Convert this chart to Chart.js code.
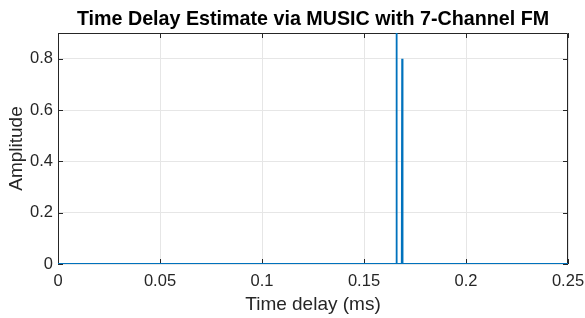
<!DOCTYPE html>
<html>
<head>
<meta charset="utf-8">
<script src="https://cdn.jsdelivr.net/npm/chart.js@4"></script>
<style>
  html, body { margin: 0; padding: 0; background: #fff; }
  #wrap { width: 585px; height: 318px; }
</style>
</head>
<body>
<div id="wrap"><canvas id="myChart" width="585" height="318"></canvas></div>
<script>
// time delay (ms) and MUSIC amplitude
const delays     = [0, 0.1657, 0.1659, 0.1661, 0.1685, 0.1687, 0.1689, 0.25];
const amplitudes = [0, 0,      1.0,    0,      0,      0.8,    0,      0];

const xTicks = [0, 0.05, 0.1, 0.15, 0.2, 0.25];
const yTicks = [0, 0.2, 0.4, 0.6, 0.8];

const chartTitle = 'Time Delay Estimate via MUSIC with 7-Channel FM';

const points = delays.map((d, i) => ({ x: d, y: amplitudes[i] }));

const fontFam = 'Liberation Sans, Arial, sans-serif';

// box around the axes, inward tick marks and the title centred on the axes
const boxPlugin = {
  id: 'box',
  beforeDatasetsDraw(chart) {
    const { ctx, chartArea: a, scales } = chart;
    ctx.save();
    ctx.strokeStyle = '#262626';
    ctx.lineWidth = 1;
    ctx.beginPath();
    ctx.rect(a.left + 0.5, a.top + 0.5, a.right - a.left - 1, a.bottom - a.top - 1);
    ctx.stroke();
    ctx.beginPath();
    yTicks.forEach(v => {
      const y = Math.round(scales.y.getPixelForValue(v)) + 0.5;
      ctx.moveTo(a.left, y); ctx.lineTo(a.left + 5, y);
      ctx.moveTo(a.right, y); ctx.lineTo(a.right - 5, y);
    });
    xTicks.forEach(v => {
      const x = Math.round(scales.x.getPixelForValue(v)) + 0.5;
      ctx.moveTo(x, a.bottom); ctx.lineTo(x, a.bottom - 5);
      ctx.moveTo(x, a.top); ctx.lineTo(x, a.top + 5);
    });
    ctx.stroke();

    ctx.fillStyle = '#000';
    ctx.font = 'bold 19.7px ' + fontFam;
    ctx.textAlign = 'center';
    ctx.textBaseline = 'alphabetic';
    ctx.fillText(chartTitle, (a.left + a.right) / 2, 25);
    ctx.restore();
  }
};

const ctx = document.getElementById('myChart').getContext('2d');
const myChart = new Chart(ctx, {
  type: 'line',
  data: {
    datasets: [{
      data: points,
      borderColor: '#0072BD',
      borderWidth: 1.8,
      borderJoinStyle: 'bevel',
      pointRadius: 0,
      tension: 0,
      fill: false
    }]
  },
  options: {
    responsive: false,
    animation: false,
    layout: { padding: { left: 0, right: 17, top: 33, bottom: 0 } },
    plugins: {
      legend: { display: false },
      tooltip: { enabled: false },
      title: { display: false }
    },
    scales: {
      x: {
        type: 'linear',
        min: 0,
        max: 0.25,
        afterBuildTicks: s => { s.ticks = xTicks.map(v => ({ value: v })); },
        afterFit: s => { s.height = 54; s.paddingLeft = 0; s.paddingRight = 0; },
        ticks: {
          color: '#262626',
          font: { family: fontFam, size: 16.5 },
          padding: 8,
          maxRotation: 0,
          callback: v => String(v)
        },
        grid: { color: '#e6e6e6', drawTicks: false },
        border: { display: false },
        title: {
          display: true,
          text: 'Time delay (ms)',
          color: '#262626',
          font: { family: fontFam, size: 19 },
          padding: { top: 0, bottom: 2 }
        }
      },
      y: {
        min: 0,
        max: 0.9,
        afterBuildTicks: s => { s.ticks = yTicks.map(v => ({ value: v })); },
        afterFit: s => { s.width = 58; s.paddingTop = 0; s.paddingBottom = 0; },
        ticks: {
          color: '#262626',
          font: { family: fontFam, size: 16.5 },
          padding: 5,
          callback: v => String(v)
        },
        grid: { color: '#e6e6e6', drawTicks: false },
        border: { display: false },
        title: {
          display: true,
          text: 'Amplitude',
          color: '#262626',
          font: { family: fontFam, size: 19 },
          padding: { top: 5, bottom: 0 }
        }
      }
    }
  },
  plugins: [boxPlugin]
});
</script>
</body>
</html>
